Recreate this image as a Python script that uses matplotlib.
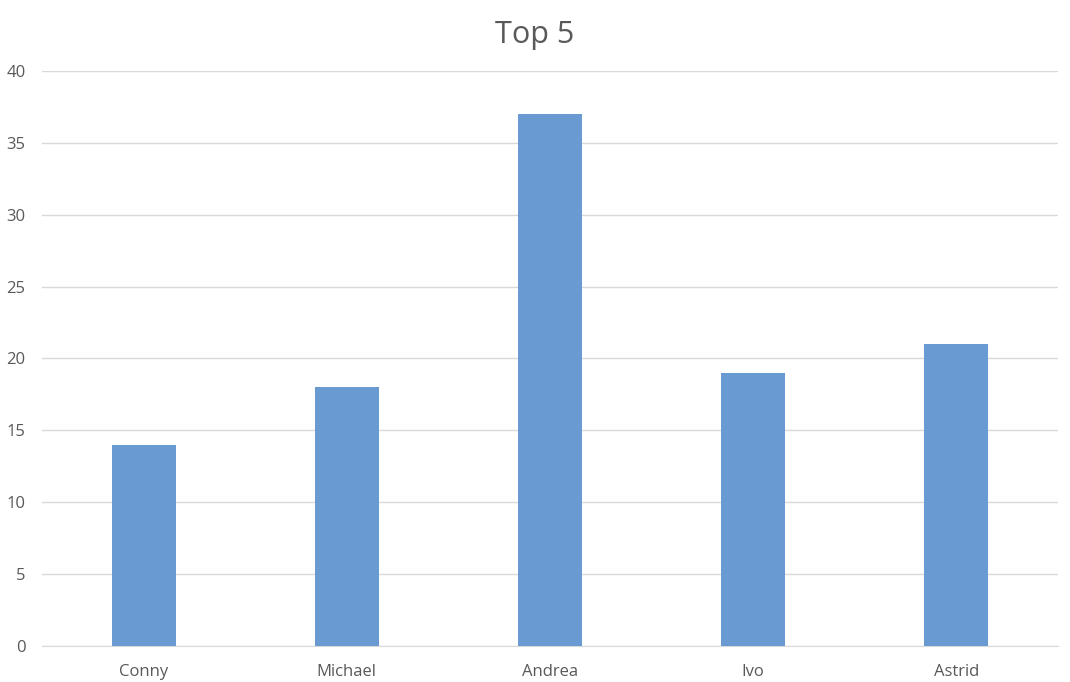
import matplotlib
matplotlib.use("Agg")
import matplotlib.pyplot as plt

categories = ["Conny", "Michael", "Andrea", "Ivo", "Astrid"]
values = [14, 18, 37, 19, 21]
yticks = [0, 5, 10, 15, 20, 25, 30, 35, 40]

plt.rcParams['font.family'] = ['Open Sans', 'DejaVu Sans']

fig = plt.figure(figsize=(10.7, 6.82), dpi=100)
ax = fig.add_axes([0.0393, 0.0528, 0.9495, 0.8431])

x = range(len(categories))
ax.bar(x, values, width=0.315, color="#6A9AD2", zorder=3)
ax.set_xlim(-0.5, len(categories) - 0.5)
ax.set_ylim(0, 40)
ax.set_yticks(yticks)
ax.set_xticks(list(x))
ax.set_xticklabels(categories)
ax.grid(axis='y', color="#D9D9D9", linewidth=1, zorder=0)
for s in ["top", "right", "left"]:
    ax.spines[s].set_visible(False)
ax.spines["bottom"].set_color("#D9D9D9")
ax.tick_params(axis='both', length=0, colors="#595959", labelsize=12)
ax.tick_params(axis='y', pad=12)
ax.tick_params(axis='x', pad=13)
fig.text(0.5, 0.948, "Top 5", ha='center', va='center', fontsize=22, color="#595959")

fig.savefig("out.png", dpi=100)
